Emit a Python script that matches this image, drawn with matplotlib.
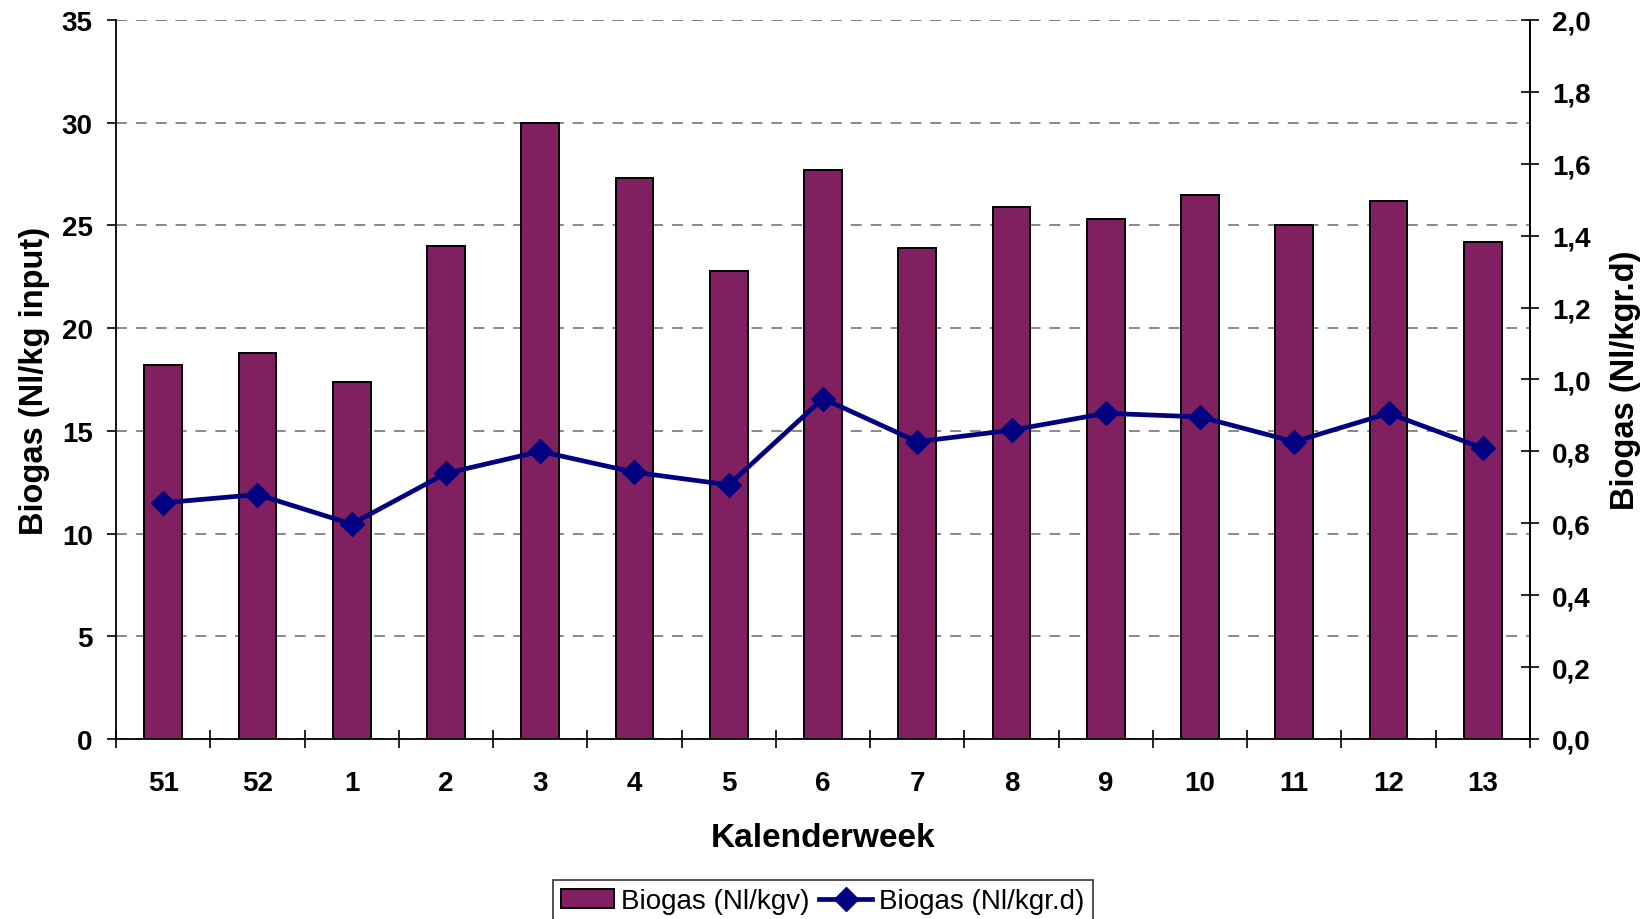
import matplotlib
matplotlib.use("Agg")
import matplotlib.pyplot as plt
import numpy as np
from matplotlib.ticker import MultipleLocator, FixedLocator, FuncFormatter
from matplotlib.patches import Patch
from matplotlib.lines import Line2D

weeks = ["51", "52", "1", "2", "3", "4", "5", "6", "7", "8", "9", "10", "11", "12", "13"]
biogas_kgv = [18.2, 18.8, 17.4, 24.0, 30.0, 27.3, 22.8, 27.7, 23.9, 25.9, 25.3, 26.5, 25.0, 26.2, 24.2]
biogas_kgrd = [0.657, 0.68, 0.598, 0.739, 0.80, 0.742, 0.707, 0.947, 0.827, 0.859, 0.906, 0.896, 0.827, 0.906, 0.809]

plt.rcParams['font.family'] = ['Liberation Sans', 'DejaVu Sans']

fig = plt.figure(figsize=(16.52, 9.2), dpi=100)
ax = fig.add_axes([116/1652, 1-740/920, (1530-116)/1652, (740-21)/920])
ax2 = ax.twinx()

x = np.arange(len(weeks))
bar_color = "#802060"
line_color = "#000080"

ax.bar(x, biogas_kgv, width=0.4, color=bar_color, edgecolor="black", linewidth=1.4, zorder=3)
ax2.plot(x, biogas_kgrd, color=line_color, linewidth=3.4, marker="D", markersize=12, zorder=4)

ax.set_xlim(-0.5, len(weeks) - 0.5)
ax.set_ylim(0, 35)
ax2.set_ylim(0, 2.0)

ax.yaxis.set_major_locator(MultipleLocator(5))
ax2.yaxis.set_major_locator(MultipleLocator(0.2))
ax2.yaxis.set_major_formatter(FuncFormatter(lambda v, p: f"{v:.1f}".replace(".", ",")))

ax.set_xticks(x)
ax.set_xticklabels(weeks)
ax.xaxis.set_minor_locator(FixedLocator(np.arange(-0.5, len(weeks), 1.0)))
ax.tick_params(axis="x", which="major", length=0, pad=22, labelsize=20)
ax.tick_params(axis="x", which="minor", direction="inout", length=13, width=1.2)
for lab in ax.get_xticklabels():
    lab.set_fontweight("bold")

ax.tick_params(axis="y", which="major", direction="out", length=6.7, width=1.2, pad=10, labelsize=20)
for lab in ax.get_yticklabels():
    lab.set_fontweight("bold")
ax2.tick_params(axis="y", which="major", direction="inout", length=13.5, width=1.2, pad=9, labelsize=20)
for lab in ax2.get_yticklabels():
    lab.set_fontweight("bold")

ax.grid(axis="y", color="#808080", linestyle=(0, (6, 5)), linewidth=1.3, zorder=0)
ax.set_axisbelow(True)

for a in (ax, ax2):
    a.spines["top"].set_visible(False)
    for s in ("left", "right", "bottom"):
        a.spines[s].set_linewidth(1.3)
ax2.spines["left"].set_visible(False)
ax2.spines["bottom"].set_visible(False)

# top gridline at 35 (dashed)
ax.axhline(35, color="#808080", linestyle=(0, (6, 5)), linewidth=1.3, zorder=0)

ax.set_xlabel("Kalenderweek", fontsize=24, fontweight="bold", labelpad=19)
ax.set_ylabel("Biogas (Nl/kg input)", fontsize=23.5, fontweight="bold")
ax2.set_ylabel("Biogas (Nl/kgr.d)", fontsize=23.5, fontweight="bold")
ax.yaxis.set_label_coords((50-116)/1414, 0.5)
ax2.yaxis.set_label_coords((1610-116)/1414, 0.5)

handles = [Patch(facecolor=bar_color, edgecolor="black", linewidth=1.4),
           Line2D([], [], color=line_color, linewidth=3.4, marker="D", markersize=12)]
leg = fig.legend(handles, ["Biogas (Nl/kgv)", "Biogas (Nl/kgr.d)"], loc="upper center",
                 bbox_to_anchor=(823/1652, 1-881/920), ncol=2, fontsize=20, frameon=True,
                 fancybox=False, edgecolor="black", handlelength=1.9, handletextpad=0.25,
                 columnspacing=0.35, borderpad=0.3, borderaxespad=0)
leg.get_frame().set_linewidth(1.2)

fig.savefig("out.png", dpi=100)
